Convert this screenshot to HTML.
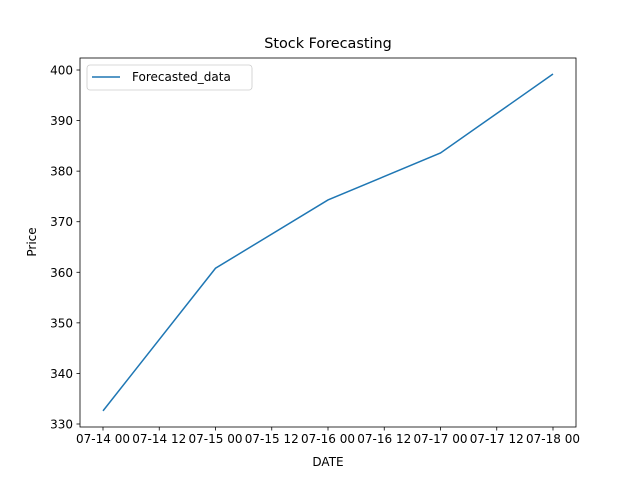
<!DOCTYPE html>
<html><head><meta charset="utf-8"><style>
body{margin:0;background:#fff}
svg text{font-family:"DejaVu Sans","Liberation Sans",sans-serif;fill:#000}
</style></head><body>
<svg id="chart" width="640" height="480" viewBox="0 0 640 480" xmlns="http://www.w3.org/2000/svg">
<rect width="640" height="480" fill="#fff"/>
<text x="328" y="48" font-size="14.4" text-anchor="middle">Stock Forecasting</text>
<text x="328" y="466" font-size="12" text-anchor="middle">DATE</text>
<text transform="translate(36,242) rotate(-90)" font-size="12" text-anchor="middle">Price</text>
</svg>
<script>
const categories=["07-14 00","07-15 00","07-16 00","07-17 00","07-18 00"];
const values=[332.6,360.8,374.3,383.6,399.2];
const xTickLabels=["07-14 00","07-14 12","07-15 00","07-15 12","07-16 00","07-16 12","07-17 00","07-17 12","07-18 00"];
const yTicks=[330,340,350,360,370,380,390,400];
const NS="http://www.w3.org/2000/svg";
const svg=document.getElementById('chart');
const L=80,R=576,T=58,B=427;
function xs(i){return 103+i*112.5;}
function ys(v){return 424-(v-330)*5.0571;}
function el(t,a,p){const e=document.createElementNS(NS,t);for(const k in a)e.setAttribute(k,a[k]);(p||svg).appendChild(e);return e;}
xTickLabels.forEach((lab,i)=>{
 const x=xs(i/2);
 const tk=el('line',{x1:x,x2:x,y1:B,y2:B+3.5,stroke:'#000','stroke-width':0.8});
 
 
 const t=el('text',{x:x,y:B+16,'font-size':12,'text-anchor':'middle'});
 t.textContent=lab;
 
 
});
yTicks.forEach(v=>{
 const y=ys(v);
 const tk=el('line',{x1:L-3.5,x2:L,y1:y,y2:y,stroke:'#000','stroke-width':0.8});
 
 
 const t=el('text',{x:L-7,y:y+4.5,'font-size':12,'text-anchor':'end'});
 t.textContent=v;
 
 
});
const pts=values.map((v,i)=>xs(i)+','+ys(v)).join(' ');
const line=el('polyline',{points:pts,fill:'none',stroke:'#1f77b4','stroke-width':1.5});


const fr=el('rect',{x:L,y:T,width:R-L,height:B-T,fill:'none',stroke:'#000','stroke-width':0.8});


const lg=el('g',{});


el('rect',{x:87,y:65,width:165,height:25,rx:3,fill:'#fff',stroke:'#ccc','stroke-width':0.8},lg);
el('line',{x1:92,x2:120,y1:77,y2:77,stroke:'#1f77b4','stroke-width':1.5},lg);
const lt=el('text',{x:132,y:81,'font-size':12},lg);
lt.textContent='Forecasted_data';


</script>
</body></html>
